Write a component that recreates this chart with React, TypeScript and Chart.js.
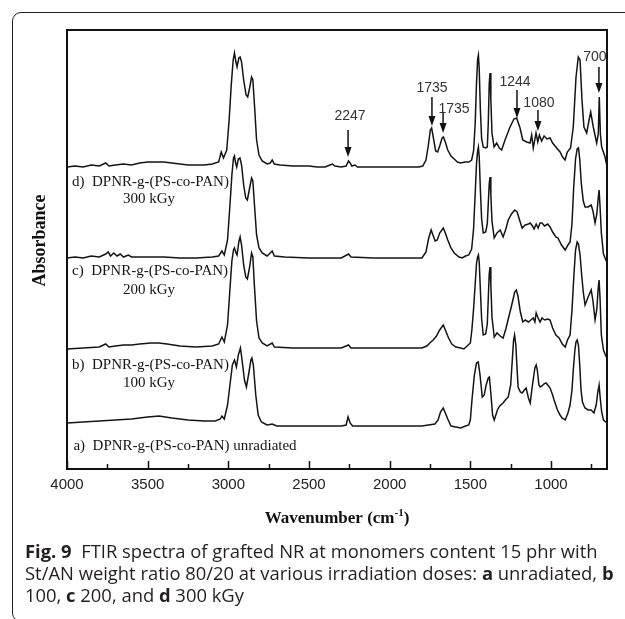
import { useEffect, useRef } from "react";
import { Chart, registerables } from "chart.js";

Chart.register(...registerables);

// Wavenumber axis (cm-1), reversed
const wavenumberMax = 4000;
const wavenumberMin = 653;
const wavenumberTicks = [4000, 3500, 3000, 2500, 2000, 1500, 1000];
const minorTicks = [3750, 3250, 2750, 2250, 1750, 1250, 750];
const absorbanceMax = 439; // stacked absorbance, arbitrary units

// [wavenumber, stacked absorbance (a.u.)]
const traceD: [number, number][] = [
  [4000, 302], [3950, 303], [3900, 302], [3850, 304], [3800, 303], [3760, 306], [3740, 303], [3700, 304],
  [3650, 305], [3600, 304], [3550, 306], [3500, 307], [3450, 307], [3400, 307], [3350, 306], [3300, 305],
  [3250, 304], [3200, 304], [3150, 304], [3100, 305], [3060, 307], [3044, 317], [3030, 311], [3010, 319],
  [2995, 349], [2982, 384], [2970, 409], [2962, 416], [2953, 407], [2946, 402], [2935, 411], [2927, 412],
  [2918, 407], [2905, 389], [2890, 374], [2880, 372], [2868, 381], [2856, 392], [2848, 389], [2838, 364],
  [2825, 329], [2810, 314], [2790, 308], [2760, 305], [2740, 306], [2728, 309], [2715, 305], [2680, 304],
  [2600, 303], [2500, 303], [2450, 302], [2400, 302], [2370, 304], [2355, 305], [2340, 303], [2300, 302],
  [2270, 303], [2255, 308], [2245, 306], [2235, 303], [2215, 304], [2200, 302], [2100, 302], [2000, 302],
  [1900, 302], [1820, 302], [1795, 303], [1775, 309], [1760, 324], [1748, 339], [1740, 341], [1730, 332],
  [1715, 318], [1703, 317], [1690, 323], [1675, 331], [1667, 332], [1655, 327], [1640, 319], [1620, 313],
  [1600, 310], [1580, 307], [1560, 306], [1533, 307], [1510, 307], [1492, 309], [1480, 318], [1470, 345],
  [1462, 385], [1455, 410], [1450, 414], [1445, 400], [1438, 360], [1430, 330], [1420, 322], [1405, 321],
  [1395, 322], [1389, 345], [1383, 385], [1378, 396], [1373, 370], [1366, 336], [1353, 322], [1337, 326],
  [1320, 321], [1306, 319], [1285, 329], [1254, 342], [1230, 350], [1213, 351], [1192, 341], [1175, 329],
  [1151, 327], [1130, 326], [1120, 334], [1110, 321], [1093, 336], [1082, 327], [1072, 334], [1058, 328],
  [1043, 333], [1025, 330], [1006, 331], [990, 326], [965, 321], [944, 317], [928, 312], [913, 309],
  [899, 317], [879, 321], [862, 342], [845, 392], [831, 412], [820, 409], [808, 369], [796, 342],
  [779, 336], [764, 349], [754, 357], [738, 342], [717, 326], [707, 335], [701, 372], [694, 335],
  [686, 322], [665, 312], [655, 304],
];

const traceC: [number, number][] = [
  [4000, 211], [3950, 212], [3900, 211], [3850, 213], [3800, 212], [3760, 215], [3745, 217], [3730, 213],
  [3710, 216], [3690, 213], [3670, 215], [3650, 212], [3620, 214], [3600, 212], [3550, 212], [3500, 212],
  [3400, 212], [3300, 211], [3200, 211], [3100, 212], [3060, 213], [3040, 218], [3025, 214], [3005, 229],
  [2990, 264], [2978, 294], [2968, 311], [2962, 313], [2955, 306], [2948, 302], [2938, 310], [2928, 311],
  [2918, 304], [2905, 284], [2892, 271], [2882, 269], [2868, 281], [2856, 291], [2848, 288], [2838, 264],
  [2825, 234], [2810, 221], [2790, 216], [2760, 213], [2728, 218], [2715, 213], [2650, 212], [2500, 211],
  [2400, 211], [2300, 211], [2255, 215], [2240, 212], [2100, 211], [1900, 211], [1800, 211], [1775, 217],
  [1758, 231], [1743, 239], [1732, 234], [1718, 228], [1705, 229], [1690, 236], [1668, 241], [1655, 236],
  [1640, 229], [1620, 221], [1600, 216], [1570, 212], [1550, 211], [1530, 213], [1510, 214], [1492, 220],
  [1480, 240], [1470, 275], [1462, 305], [1455, 318], [1450, 322], [1445, 312], [1438, 280], [1430, 250],
  [1420, 236], [1405, 237], [1395, 245], [1389, 265], [1383, 285], [1378, 292], [1373, 275], [1366, 248],
  [1352, 231], [1335, 236], [1315, 239], [1297, 232], [1280, 240], [1265, 249], [1245, 255], [1225, 259],
  [1210, 257], [1195, 249], [1179, 241], [1160, 244], [1140, 245], [1129, 246], [1115, 243], [1105, 240],
  [1092, 245], [1080, 241], [1068, 246], [1056, 246], [1040, 243], [1020, 245], [1006, 242], [990, 237],
  [970, 232], [957, 231], [935, 224], [912, 219], [895, 224], [882, 227], [870, 245], [860, 280],
  [848, 310], [838, 320], [830, 321], [822, 310], [812, 285], [800, 268], [789, 262], [770, 262],
  [751, 264], [740, 258], [727, 246], [716, 255], [708, 270], [702, 279], [696, 262], [688, 236],
  [675, 215], [660, 209], [654, 207],
];

const traceB: [number, number][] = [
  [4000, 120], [3900, 121], [3800, 122], [3760, 125], [3740, 122], [3700, 123], [3650, 124], [3600, 124],
  [3550, 125], [3480, 126], [3430, 126], [3380, 125], [3300, 123], [3200, 122], [3100, 123], [3060, 125],
  [3040, 132], [3025, 127], [3005, 144], [2990, 180], [2978, 208], [2968, 219], [2962, 221], [2952, 216],
  [2946, 214], [2935, 227], [2927, 232], [2918, 224], [2905, 204], [2892, 192], [2882, 190], [2868, 202],
  [2856, 216], [2848, 212], [2838, 182], [2825, 148], [2810, 131], [2790, 126], [2760, 123], [2728, 126],
  [2715, 122], [2600, 121], [2400, 121], [2300, 121], [2255, 124], [2240, 121], [2000, 121], [1800, 121],
  [1770, 123], [1745, 127], [1730, 129], [1710, 133], [1690, 139], [1668, 144], [1655, 139], [1635, 131],
  [1615, 125], [1590, 122], [1560, 121], [1540, 120], [1520, 123], [1500, 126], [1490, 140], [1480, 160],
  [1470, 185], [1462, 205], [1455, 212], [1450, 214], [1445, 207], [1438, 180], [1430, 150], [1420, 134],
  [1405, 135], [1395, 145], [1389, 170], [1383, 195], [1378, 202], [1373, 185], [1366, 152], [1352, 132],
  [1335, 136], [1315, 133], [1297, 131], [1280, 140], [1265, 150], [1245, 163], [1225, 177], [1215, 179],
  [1205, 173], [1190, 157], [1175, 147], [1160, 149], [1140, 147], [1125, 149], [1110, 151], [1100, 147],
  [1092, 156], [1080, 151], [1068, 147], [1056, 151], [1040, 149], [1020, 150], [1006, 149], [990, 141],
  [970, 134], [950, 131], [930, 125], [912, 122], [898, 129], [882, 134], [870, 159], [858, 194],
  [848, 219], [838, 227], [830, 225], [820, 214], [810, 194], [800, 177], [789, 164], [770, 172],
  [751, 179], [740, 168], [727, 149], [716, 160], [708, 180], [702, 189], [696, 170], [688, 134],
  [675, 119], [660, 113], [654, 111],
];

const traceA: [number, number][] = [
  [4000, 46], [3900, 47], [3800, 48], [3700, 49], [3600, 50], [3500, 52], [3430, 53], [3350, 51],
  [3250, 49], [3150, 48], [3080, 48], [3050, 50], [3040, 53], [3025, 50], [3005, 64], [2990, 84],
  [2975, 104], [2962, 109], [2950, 102], [2938, 114], [2925, 121], [2915, 109], [2900, 89], [2888, 82],
  [2875, 94], [2860, 109], [2854, 111], [2845, 104], [2830, 74], [2815, 54], [2795, 47], [2760, 44],
  [2728, 45], [2700, 43], [2500, 43], [2300, 43], [2270, 44], [2258, 52], [2245, 46], [2230, 43],
  [2000, 43], [1800, 43], [1760, 44], [1720, 45], [1700, 49], [1685, 57], [1668, 61], [1655, 56],
  [1640, 50], [1620, 43], [1590, 42], [1560, 41], [1530, 43], [1510, 44], [1500, 49], [1490, 69],
  [1475, 94], [1462, 106], [1451, 107], [1440, 94], [1426, 72], [1414, 74], [1402, 84], [1389, 91],
  [1382, 92], [1372, 74], [1362, 54], [1352, 49], [1332, 59], [1318, 63], [1297, 66], [1283, 69],
  [1265, 72], [1250, 84], [1240, 109], [1232, 129], [1226, 134], [1218, 124], [1210, 99], [1204, 82],
  [1190, 77], [1179, 76], [1165, 79], [1154, 81], [1140, 71], [1129, 66], [1115, 84], [1100, 101],
  [1092, 104], [1085, 99], [1075, 84], [1067, 82], [1056, 83], [1045, 85], [1031, 86], [1015, 83],
  [1006, 81], [990, 74], [981, 69], [960, 59], [944, 54], [932, 51], [912, 49], [895, 56],
  [882, 64], [870, 79], [862, 99], [852, 119], [845, 127], [838, 129], [830, 124], [822, 104],
  [814, 79], [805, 67], [795, 63], [789, 61], [770, 59], [751, 59], [734, 56], [720, 64],
  [710, 77], [702, 84], [695, 71], [686, 57], [675, 49], [660, 47], [654, 46],
];

const traceNames = ["a) unradiated", "b) 100 kGy", "c) 200 kGy", "d) 300 kGy"];

// Sample labels inside the plot: [text, wavenumber, absorbance, alignment]
const sampleLabels: [string, number, number, string][] = [
  ["d)  DPNR-g-(PS-co-PAN)", 3969, 287, "left"],
  ["300 kGy", 3492, 270, "center"],
  ["c)  DPNR-g-(PS-co-PAN)", 3969, 198, "left"],
  ["200 kGy", 3492, 179, "center"],
  ["b)  DPNR-g-(PS-co-PAN)", 3969, 104, "left"],
  ["100 kGy", 3492, 86, "center"],
  ["a)  DPNR-g-(PS-co-PAN) unradiated", 3960, 23, "left"],
];

// Peak annotations: label, arrow wavenumber, arrow tip, arrow tail, label height
const peakLabels = ["2247", "1735", "1735", "1244", "1080", "700"];
const peakWavenumbers = [2258, 1738, 1669, 1211, 1081, 703];
const peakTips = [312, 343, 336, 351, 338, 376];
const peakTails = [339, 372, 356, 379, 359, 402];
const peakLabelLevels = [353, 381, 360, 387, 366, 412];
const peakLabelShift = [2, 0, 11, -2, 1, -4];

const overlayPlugin = {
  id: "overlay",
  afterDatasetsDraw(chart: any) {
    const { ctx, chartArea: a, scales } = chart;
    const x = scales.x;
    const y = scales.y;
    ctx.save();
    ctx.strokeStyle = "#111";
    ctx.fillStyle = "#111";

    // frame
    ctx.lineWidth = 2;
    ctx.strokeRect(a.left, a.top, a.right - a.left, a.bottom - a.top);

    // inward ticks
    ctx.lineWidth = 1.5;
    const drawTick = (v: number, len: number) => {
      const px = Math.round(x.getPixelForValue(v)) + 0.5;
      ctx.beginPath();
      ctx.moveTo(px, a.bottom);
      ctx.lineTo(px, a.bottom - len);
      ctx.stroke();
    };
    wavenumberTicks.forEach((v) => drawTick(v, 8));
    minorTicks.forEach((v) => drawTick(v, 5));

    // peak arrows
    ctx.lineWidth = 1.5;
    ctx.font = "14px 'Liberation Sans', Arial, sans-serif";
    ctx.textAlign = "center";
    ctx.textBaseline = "middle";
    peakLabels.forEach((label, i) => {
      const px = x.getPixelForValue(peakWavenumbers[i]);
      const tip = y.getPixelForValue(peakTips[i]);
      const tail = y.getPixelForValue(peakTails[i]);
      ctx.strokeStyle = "#111";
      ctx.beginPath();
      ctx.moveTo(px, tail);
      ctx.lineTo(px, tip - 6);
      ctx.stroke();
      ctx.beginPath();
      ctx.moveTo(px, tip);
      ctx.lineTo(px - 3.5, tip - 10);
      ctx.lineTo(px + 3.5, tip - 10);
      ctx.closePath();
      ctx.fillStyle = "#111";
      ctx.fill();
      ctx.fillStyle = "#333";
      ctx.fillText(label, px + peakLabelShift[i], y.getPixelForValue(peakLabelLevels[i]));
    });

    // sample labels
    ctx.fillStyle = "#151515";
    ctx.font = "15px 'Liberation Serif', 'Times New Roman', serif";
    sampleLabels.forEach(([text, wn, v, align]) => {
      ctx.textAlign = align as CanvasTextAlign;
      ctx.fillText(text, x.getPixelForValue(wn), y.getPixelForValue(v));
    });

    // axis titles
    ctx.fillStyle = "#111";
    ctx.textAlign = "left";
    const big = "bold 17px 'Liberation Serif', 'Times New Roman', serif";
    const small = "bold 11px 'Liberation Serif', 'Times New Roman', serif";
    ctx.font = big;
    const t1 = "Wavenumber (cm";
    const t3 = ")";
    const w1 = ctx.measureText(t1).width;
    const w3 = ctx.measureText(t3).width;
    ctx.font = small;
    const t2 = "-1";
    const w2 = ctx.measureText(t2).width;
    const cx = (a.left + a.right) / 2;
    const ty = a.bottom + 50;
    let sx = cx - (w1 + w2 + w3) / 2;
    ctx.font = big;
    ctx.fillText(t1, sx, ty);
    sx += w1;
    ctx.font = small;
    ctx.fillText(t2, sx, ty - 6);
    sx += w2;
    ctx.font = big;
    ctx.fillText(t3, sx, ty);

    ctx.save();
    ctx.translate(a.left - 27, (a.top + a.bottom) / 2 - 9);
    ctx.rotate(-Math.PI / 2);
    ctx.textAlign = "center";
    ctx.font = "bold 18px 'Liberation Serif', 'Times New Roman', serif";
    ctx.fillText("Absorbance", 0, 0);
    ctx.restore();

    ctx.restore();
  },
};

export default function App() {
  const canvasRef = useRef<HTMLCanvasElement | null>(null);

  useEffect(() => {
    if (!canvasRef.current) return;
    const traces = [traceA, traceB, traceC, traceD];
    const chart = new Chart(canvasRef.current, {
      type: "line",
      data: {
        datasets: traces.map((t, i) => ({
          label: traceNames[i],
          data: t.map(([wn, v]) => ({ x: wn, y: v })),
          borderColor: "#141414",
          borderWidth: 1.5,
          pointRadius: 0,
          tension: 0,
          fill: false,
        })),
      },
      options: {
        animation: false,
        responsive: false,
        devicePixelRatio: 1,
        layout: { padding: { left: 67, right: 18, top: 30, bottom: 110 } },
        plugins: { legend: { display: false }, tooltip: { enabled: false } },
        scales: {
          x: {
            type: "linear",
            reverse: true,
            min: wavenumberMin,
            max: wavenumberMax,
            afterBuildTicks: (scale: any) => {
              scale.ticks = wavenumberTicks.map((v) => ({ value: v }));
            },
            afterFit: (scale: any) => {
              scale.height = 40;
            },
            grid: { display: false, drawTicks: false },
            border: { display: false },
            ticks: {
              autoSkip: false,
              maxRotation: 0,
              padding: 7,
              color: "#222",
              font: { family: "'Liberation Sans', Arial, sans-serif", size: 15 },
              callback: (v: any) => String(v),
            },
          },
          y: {
            display: false,
            min: 0,
            max: absorbanceMax,
          },
        },
      },
      plugins: [overlayPlugin],
    });
    return () => chart.destroy();
  }, []);

  const captionStyle: any = {
    position: "absolute",
    left: 25,
    fontFamily: "'Open Sans', 'Noto Sans', sans-serif",
    fontSize: 18.4,
    lineHeight: "22px",
    color: "#231f20",
    whiteSpace: "nowrap",
  };

  return (
    <div style={{ position: "fixed", left: 0, top: 0, width: 625, height: 619, overflow: "hidden", background: "#fff" }}>
      <div
        style={{
          position: "absolute",
          left: 12,
          top: 12,
          width: 700,
          height: 610,
          border: "1.2px solid #222",
          borderRadius: 9,
          boxSizing: "border-box",
        }}
      />
      <canvas ref={canvasRef} width={625} height={619} style={{ position: "absolute", left: 0, top: 0 }} />
      <div style={{ ...captionStyle, top: 540 }}>
        <b>Fig. 9</b>&nbsp; FTIR spectra of grafted NR at monomers content 15 phr with
      </div>
      <div style={{ ...captionStyle, top: 562 }}>
        St/AN weight ratio 80/20 at various irradiation doses: <b>a</b> unradiated, <b>b</b>
      </div>
      <div style={{ ...captionStyle, top: 584 }}>
        100, <b>c</b> 200, and <b>d</b> 300 kGy
      </div>
    </div>
  );
}
